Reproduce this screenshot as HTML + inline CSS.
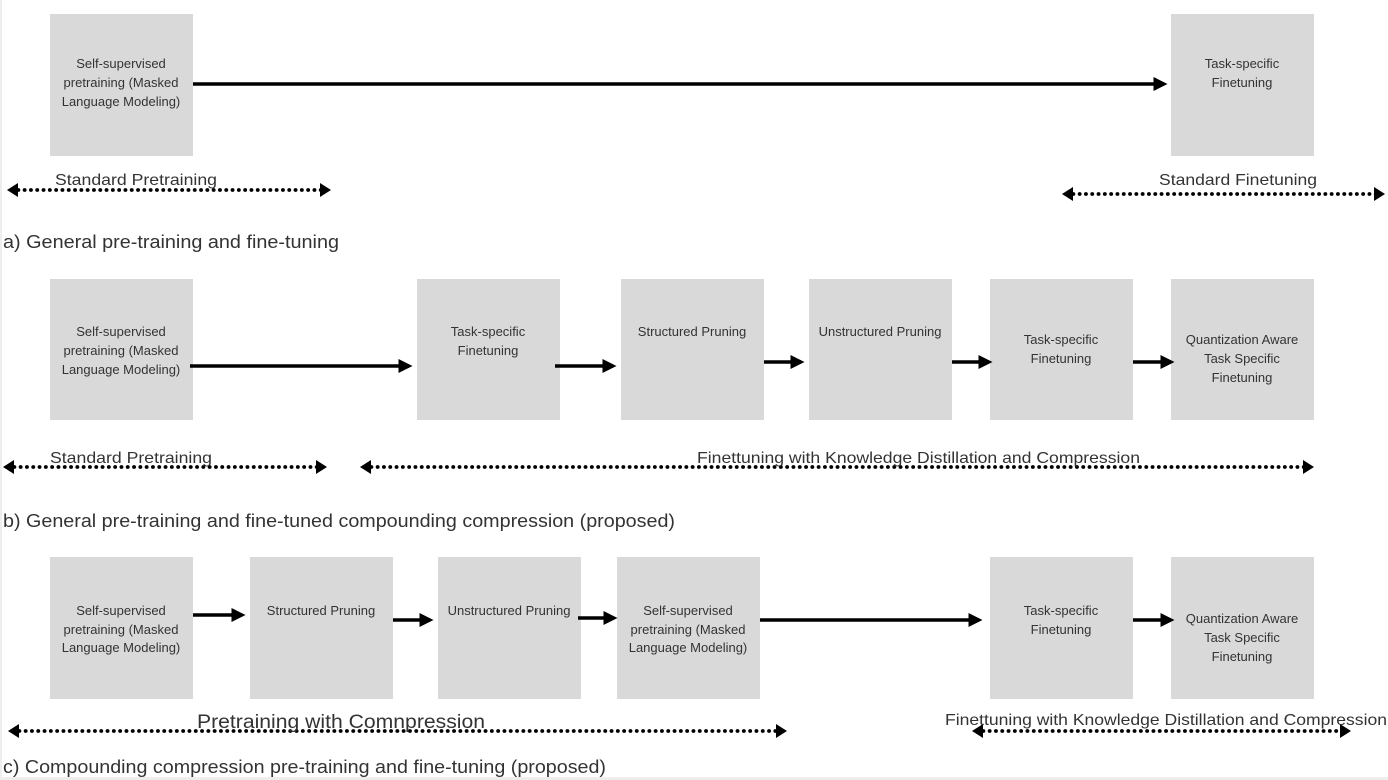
<!DOCTYPE html>
<html><head><meta charset="utf-8"><style>
html,body{margin:0;padding:0;background:#fff}
svg{display:block}
text{font-family:"Liberation Sans",sans-serif;fill:#333}
.bt{font-size:13px;text-anchor:middle}
.lt{font-size:16px}
.cap{font-size:18px}
</style></head><body>
<svg width="1388" height="780" viewBox="0 0 1388 780">
<defs>
<marker id="ah" markerWidth="4" markerHeight="4" refX="3" refY="2" orient="auto" markerUnits="strokeWidth"><path d="M0,0 L4,2 L0,4 Z" fill="#000"/></marker>
<marker id="dh" markerWidth="11" markerHeight="14" refX="6" refY="7" orient="auto-start-reverse" markerUnits="userSpaceOnUse"><path d="M0,0 L11,7 L0,14 Z" fill="#000"/></marker>
</defs>
<rect x="0" y="0" width="2" height="780" fill="#eee"/>
<rect x="0" y="777" width="1388" height="3" fill="#eee"/>
<g fill="#d9d9d9">
<rect x="50" y="14" width="143" height="142"/><rect x="1171" y="14" width="143" height="142"/>
<rect x="50" y="279" width="143" height="141"/><rect x="417" y="279" width="143" height="141"/><rect x="621" y="279" width="143" height="141"/><rect x="809" y="279" width="143" height="141"/><rect x="990" y="279" width="143" height="141"/><rect x="1171" y="279" width="143" height="141"/>
<rect x="50" y="557" width="143" height="142"/><rect x="250" y="557" width="143" height="142"/><rect x="438" y="557" width="143" height="142"/><rect x="617" y="557" width="143" height="142"/><rect x="990" y="557" width="143" height="142"/><rect x="1171" y="557" width="143" height="142"/>
</g>
<g>
<text class="bt" x="121" y="68">Self-supervised</text><text class="bt" x="121" y="87">pretraining (Masked</text><text class="bt" x="121" y="106">Language Modeling)</text>
<text class="bt" x="1242" y="68">Task-specific</text><text class="bt" x="1242" y="87">Finetuning</text>
<text class="bt" x="121" y="336">Self-supervised</text><text class="bt" x="121" y="355">pretraining (Masked</text><text class="bt" x="121" y="374">Language Modeling)</text>
<text class="bt" x="488" y="336">Task-specific</text><text class="bt" x="488" y="355">Finetuning</text>
<text class="bt" x="692" y="336">Structured Pruning</text>
<text class="bt" x="880" y="336">Unstructured Pruning</text>
<text class="bt" x="1061" y="344">Task-specific</text><text class="bt" x="1061" y="363">Finetuning</text>
<text class="bt" x="1242" y="344">Quantization Aware</text><text class="bt" x="1242" y="363">Task Specific</text><text class="bt" x="1242" y="382">Finetuning</text>
<text class="bt" x="121" y="615">Self-supervised</text><text class="bt" x="121" y="634">pretraining (Masked</text><text class="bt" x="121" y="652">Language Modeling)</text>
<text class="bt" x="321" y="615">Structured Pruning</text>
<text class="bt" x="509" y="615">Unstructured Pruning</text>
<text class="bt" x="688" y="615">Self-supervised</text><text class="bt" x="688" y="634">pretraining (Masked</text><text class="bt" x="688" y="652">Language Modeling)</text>
<text class="bt" x="1061" y="615">Task-specific</text><text class="bt" x="1061" y="634">Finetuning</text>
<text class="bt" x="1242" y="623">Quantization Aware</text><text class="bt" x="1242" y="642">Task Specific</text><text class="bt" x="1242" y="661">Finetuning</text>
</g>
<g stroke="#000" stroke-width="3.5" marker-end="url(#ah)">
<line x1="193" y1="84" x2="1164" y2="84"/>
<line x1="190" y1="366" x2="409" y2="366"/>
<line x1="555" y1="366" x2="613" y2="366"/>
<line x1="764" y1="362" x2="801" y2="362"/>
<line x1="952" y1="362" x2="989" y2="362"/>
<line x1="1133" y1="362" x2="1171" y2="362"/>
<line x1="193" y1="615" x2="242" y2="615"/>
<line x1="393" y1="620" x2="430" y2="620"/>
<line x1="578" y1="618" x2="614" y2="618"/>
<line x1="760" y1="620" x2="979" y2="620"/>
<line x1="1133" y1="620" x2="1171" y2="620"/>
</g>
<g stroke="#000" stroke-width="3.8" stroke-dasharray="0.1 6.2" stroke-linecap="round" marker-start="url(#dh)" marker-end="url(#dh)">
<line x1="12" y1="190" x2="326" y2="190"/>
<line x1="1067" y1="194" x2="1380" y2="194"/>
<line x1="8" y1="467" x2="322" y2="467"/>
<line x1="365" y1="467" x2="1309" y2="467"/>
<line x1="13" y1="731" x2="782" y2="731"/>
<line x1="977" y1="731" x2="1346" y2="731"/>
</g>
<text class="lt" x="55" y="185" textLength="162" lengthAdjust="spacingAndGlyphs">Standard Pretraining</text>
<text class="lt" x="1159" y="185" textLength="158" lengthAdjust="spacingAndGlyphs">Standard Finetuning</text>
<text class="lt" x="50" y="463" textLength="162" lengthAdjust="spacingAndGlyphs">Standard Pretraining</text>
<text class="lt" x="697" y="463" textLength="443" lengthAdjust="spacingAndGlyphs">Finettuning with Knowledge Distillation and Compression</text>
<text x="197" y="728" style="font-size:19px" textLength="288" lengthAdjust="spacingAndGlyphs">Pretraining  with Comnpression</text>
<text class="lt" x="945" y="725" textLength="442" lengthAdjust="spacingAndGlyphs">Finettuning with Knowledge Distillation and Compression</text>
<text class="cap" x="3" y="248" textLength="336" lengthAdjust="spacingAndGlyphs">a) General  pre-training and fine-tuning</text>
<text class="cap" x="3" y="527" textLength="672" lengthAdjust="spacingAndGlyphs">b) General pre-training and fine-tuned compounding compression (proposed)</text>
<text class="cap" x="3" y="773" textLength="603" lengthAdjust="spacingAndGlyphs">c) Compounding compression pre-training and fine-tuning (proposed)</text>
</svg>
</body></html>
